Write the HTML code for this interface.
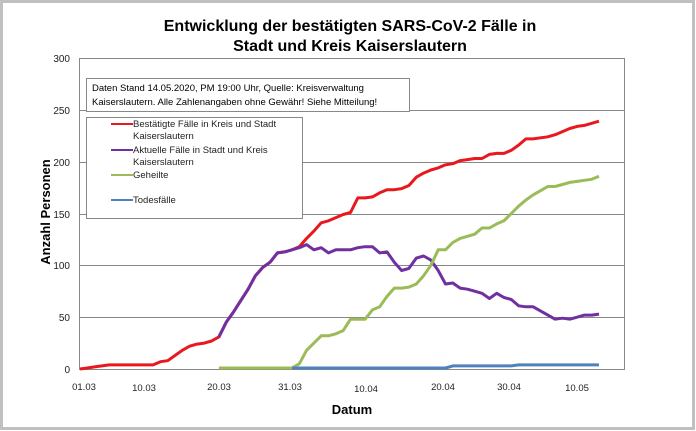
<!DOCTYPE html>
<html><head><meta charset="utf-8"><style>
body{margin:0;background:#fff;}
svg{display:block;font-family:"Liberation Sans",Arial,sans-serif;}
</style></head><body>
<svg width="696" height="431" viewBox="0 0 696 431">
<rect x="1.5" y="1.5" width="692" height="427" fill="#fff" stroke="#c0c0c0" stroke-width="3"/>
<text x="350" y="31" text-anchor="middle" font-size="16" font-weight="bold">Entwicklung der bestätigten SARS-CoV-2 Fälle in</text>
<text x="350" y="51" text-anchor="middle" font-size="16" font-weight="bold">Stadt und Kreis Kaiserslautern</text>
<g stroke="#888" stroke-width="1">
<line x1="79" y1="58.5" x2="625" y2="58.5"/>
<line x1="79" y1="110.5" x2="625" y2="110.5"/>
<line x1="79" y1="162.5" x2="625" y2="162.5"/>
<line x1="79" y1="214.5" x2="625" y2="214.5"/>
<line x1="79" y1="265.5" x2="625" y2="265.5"/>
<line x1="79" y1="317.5" x2="625" y2="317.5"/>
<line x1="79" y1="369.5" x2="625" y2="369.5"/>
<line x1="79.5" y1="58" x2="79.5" y2="370"/>
<line x1="624.5" y1="58" x2="624.5" y2="370"/>
</g>
<g font-size="10" text-anchor="end" fill="#222">
<text x="70" y="62">300</text><text x="70" y="114">250</text><text x="70" y="166">200</text>
<text x="70" y="218">150</text><text x="70" y="269">100</text><text x="70" y="321">50</text><text x="70" y="373">0</text>
</g>
<g font-size="9.5" text-anchor="middle" fill="#222">
<text x="84" y="390">01.03</text><text x="144" y="391">10.03</text><text x="219" y="390">20.03</text>
<text x="290" y="390">31.03</text><text x="366" y="392">10.04</text><text x="443" y="390">20.04</text>
<text x="509" y="390">30.04</text><text x="577" y="391">10.05</text>
</g>
<text x="352" y="414" text-anchor="middle" font-size="13" font-weight="bold">Datum</text>
<text transform="translate(50,212) rotate(-90)" text-anchor="middle" font-size="13" font-weight="bold">Anzahl Personen</text>
<polyline id="red" fill="none" stroke="#e8191e" stroke-width="3" stroke-linejoin="round" points=""/>
<polyline id="pur" fill="none" stroke="#7030a0" stroke-width="3" stroke-linejoin="round" points=""/>
<polyline id="grn" fill="none" stroke="#9bbb59" stroke-width="3" stroke-linejoin="round" points=""/>
<polyline id="blu" fill="none" stroke="#4f81bd" stroke-width="3" stroke-linejoin="round" points=""/>
<rect x="86.5" y="78.5" width="323" height="33" fill="#fff" stroke="#888"/>
<text x="92" y="91" font-size="9.5">Daten Stand 14.05.2020, PM 19:00 Uhr, Quelle: Kreisverwaltung</text>
<text x="92" y="105" font-size="9.5">Kaiserslautern. Alle Zahlenangaben ohne Gewähr! Siehe Mitteilung!</text>
<rect x="86.5" y="117.5" width="216" height="101" fill="#fff" stroke="#888"/>
<g font-size="9.5" fill="#222">
<line x1="111" y1="124" x2="133" y2="124" stroke="#e8191e" stroke-width="2"/>
<text x="133" y="127">Bestätigte Fälle in Kreis und Stadt</text><text x="133" y="139">Kaiserslautern</text>
<line x1="111" y1="150" x2="133" y2="150" stroke="#7030a0" stroke-width="2"/>
<text x="133" y="153">Aktuelle Fälle in Stadt und Kreis</text><text x="133" y="165">Kaiserslautern</text>
<line x1="111" y1="175" x2="133" y2="175" stroke="#9bbb59" stroke-width="2"/>
<text x="133" y="178">Geheilte</text>
<line x1="111" y1="200" x2="133" y2="200" stroke="#4f81bd" stroke-width="2"/>
<text x="133" y="203">Todesfälle</text>
</g>
<script>
function X(d){return 80+7.31*d}function Y(v){return 369-1.0367*v}
function pts(start,arr){return arr.map((v,i)=>X(start+i).toFixed(1)+','+Y(v).toFixed(1)).join(' ')}
var red=[0,1,2,3,4,4,4,4,4,4,4,7,8,13,18,22,24,25,27,31,45,55,66,77,90,98,103,112,113,115,118,126,133,141,143,146,149,151,165,165,166,170,173,173,174,177,185,189,192,194,197,198,201,202,203,203,207,208,208,211,216,222,222,223,224,226,229,232,234,235,237,239];
var pur=[31,45,55,66,77,90,98,103,112,113,115,117,120,115,117,112,115,115,115,117,118,118,112,113,103,95,97,107,109,105,95,82,83,78,77,75,73,68,73,69,67,61,60,60,56,52,48,49,48,50,52,52,53];
var grn=[1,1,1,1,1,1,1,1,1,1,1,5,18,25,32,32,34,37,48,48,48,57,60,70,78,78,79,82,90,100,115,115,122,126,128,130,136,136,140,143,150,157,163,168,172,176,176,178,180,181,182,183,186];
var blu=[];for(var i=29;i<=71;i++)blu.push(i<51?1:(i<60?3:4));
document.getElementById('red').setAttribute('points',pts(0,red));
document.getElementById('pur').setAttribute('points',pts(19,pur));
document.getElementById('grn').setAttribute('points',pts(19,grn));
document.getElementById('blu').setAttribute('points',pts(29,blu));
</script>
</svg>
</body></html>
